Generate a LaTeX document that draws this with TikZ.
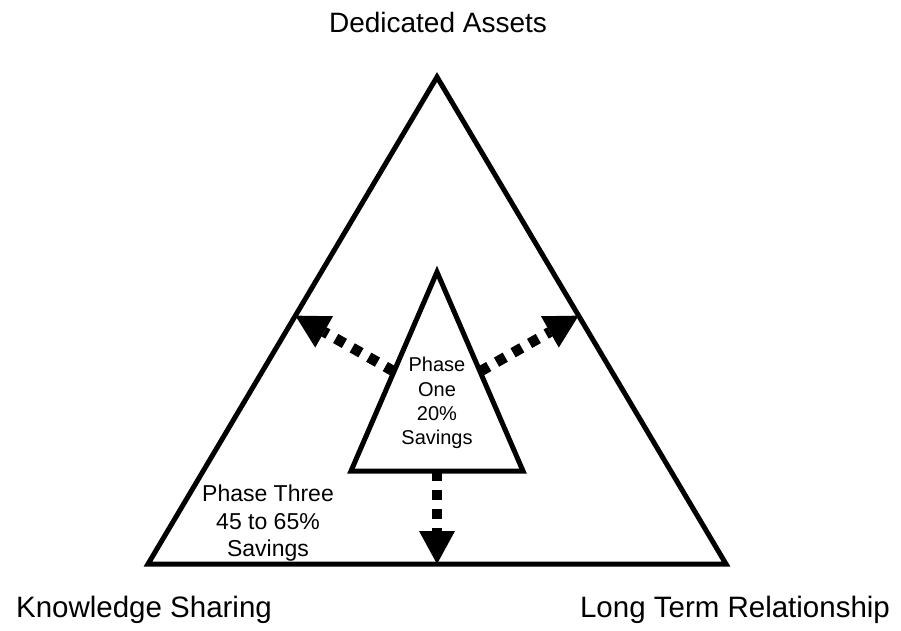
\documentclass[tikz,border=0pt]{standalone}
\usepackage{fontspec}
\setmainfont{Liberation Sans}
\usetikzlibrary{arrows.meta,calc}
\begin{document}
\begin{tikzpicture}[x=1pt, y=-1pt, >={Triangle[length=33pt, width=36pt, line width=0pt]},
	side/.style={line width=5pt},
	push/.style={->, line width=10.5pt, dash pattern=on 10pt off 9pt},
	corner/.style={font=\fontsize{29.5}{34}\selectfont, anchor=base},
	phase/.style={align=center, inner sep=0pt}]
	\useasboundingbox (0,0) rectangle (901,630);

	\coordinate (apex) at (437,77);
	\coordinate (knowl) at (148,564);
	\coordinate (longt) at (726,564);
	\coordinate (iapex) at (437,272);
	\coordinate (ileft) at (351,471);
	\coordinate (iright) at (523,471);

	\draw[side] (apex) -- (knowl) -- (longt) -- cycle;
	\draw[side] (iapex) -- (ileft) -- (iright) -- cycle;

	\coordinate (l0) at ($(iapex)!0.5!(ileft)$);
	\coordinate (l1) at ($(apex)!0.49!(knowl)$);
	\coordinate (r0) at ($(iapex)!0.5!(iright)$);
	\coordinate (r1) at ($(apex)!0.49!(longt)$);
	\coordinate (d0) at ($(ileft)!0.5!(iright)$);
	\coordinate (d1) at ($(knowl)!0.5!(longt)$);

	\foreach \a/\b in {l0/l1, r0/r1, d0/d1}
		{
			\draw[push] (\a) -- (\b);
		}

	\node[corner, font=\fontsize{28}{32}\selectfont] (assets) at (438,32) {Dedicated Assets};
	\node[corner] (sharing) at (144,617) {Knowledge Sharing};
	\node[corner] (relation) at (735,617) {Long Term Relationship};

	\node[phase, font=\fontsize{20}{24.2}\selectfont] (one) at (437,403)
		{Phase\\One\\20\%\\Savings};
	\node[phase, font=\fontsize{23}{27.5}\selectfont] (three) at (268,523.5)
		{Phase Three\\45 to 65\%\\Savings};
\end{tikzpicture}
\end{document}
